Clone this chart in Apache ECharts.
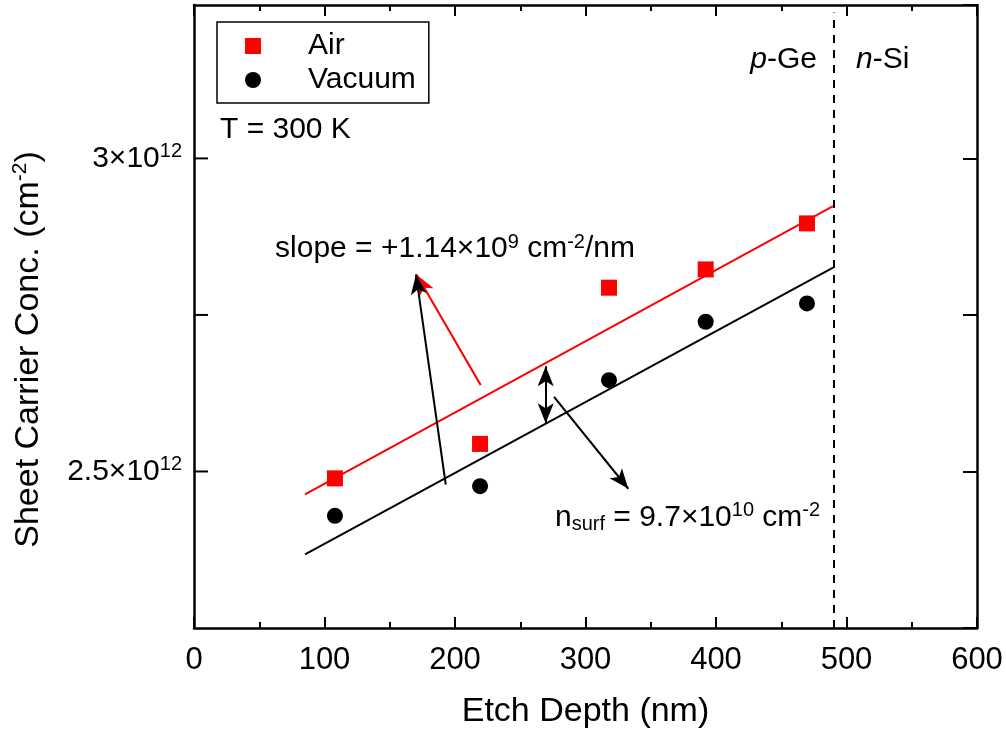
<!DOCTYPE html>
<html><head><meta charset="utf-8">
<script src="https://cdn.jsdelivr.net/npm/echarts@6/dist/echarts.min.js"></script>
<style>html,body{margin:0;padding:0;background:#fff}#c{width:1006px;height:735px}</style>
</head><body><div id="c"></div>
<script>
const FONT = '"Liberation Sans", Arial, sans-serif';

// ---- data ----
const etchDepth = [108.0, 219.2, 318.0, 392.1, 469.7];
const airConc = [2.489e12, 2.544e12, 2.7935e12, 2.8227e12, 2.8962e12];
const vacuumConc = [2.4292e12, 2.4765e12, 2.6458e12, 2.7391e12, 2.7684e12];
const fitX = [85.1, 489.7];
const airFitY = [2.4633e12, 2.9238e12];
const vacuumFitY = [2.3674e12, 2.8254e12];
const boundaryX = 490;
const boundaryY = [2.25e12, 3.233e12];
const yTickValues = [2.5e12, 3e12];
const yTickMantissa = ['2.5', '3'];
const yFrameTicks = [2.5e12, 2.75e12, 3e12];

// annotation arrows (data coords): [x1, y1, x2, y2]
const arrowSlopeBlack = [192.9, 2.4792e12, 170.1, 2.8147e12];
const arrowSlopeRed = [219.7, 2.6379e12, 170.6, 2.8140e12];
const arrowGap = [269.5, 2.577e12, 269.5, 2.668e12];
const arrowNsurf = [275.9, 2.6193e12, 332.8, 2.4724e12];

// annotation texts (data coords of anchor)
const textT = [19.9, 3.0463e12];
const textSlope = [62.1, 2.855e12];
const textNsurf = [276.6, 2.4265e12];
const textPGe = [477.4, 3.158e12];
const textNSi = [507.3, 3.158e12];

const rich = {
  n: {fontFamily: FONT, fontSize: 30, lineHeight: 34, color: '#000'},
  ni: {fontFamily: FONT, fontSize: 30, lineHeight: 34, color: '#000', fontStyle: 'italic'},
  s: {fontFamily: FONT, fontSize: 20, lineHeight: 20, color: '#000', verticalAlign: 'top'},
  b: {fontFamily: FONT, fontSize: 20, lineHeight: 20, color: '#000', verticalAlign: 'bottom'}
};

function arrowSeries(a, color, both) {
  return {
    type: 'line', data: [], silent: true,
    markLine: {
      silent: true, animation: false,
      symbol: [both ? 'arrow' : 'none', 'arrow'],
      symbolSize: [12, 20],
      label: {show: false},
      emphasis: {disabled: true},
      lineStyle: {color: color, width: 2, type: 'solid', opacity: 1},
      data: [[{coord: [a[0], a[1]]}, {coord: [a[2], a[3]]}]]
    }
  };
}

function textSeries(pos, txt, position) {
  return {
    type: 'scatter', data: [pos], symbolSize: 0, silent: true,
    itemStyle: {color: '#fff', opacity: 1},
    label: {show: true, position: position, distance: 0, color: '#000', textBorderWidth: 0,
      formatter: txt, rich: rich},
    z: 10
  };
}

const chart = echarts.init(document.getElementById('c'), null, {renderer: 'canvas'});

const X_MAX = 600;

const option = {
  animation: false,
  backgroundColor: '#fff',
  grid: {left: 194, right: 29, top: 5, bottom: 107},
  legend: {
    data: ['Air', 'Vacuum'],
    orient: 'vertical',
    left: 217, top: 22,
    padding: [9, 13, 8, 28],
    itemWidth: 16, itemHeight: 16, itemGap: 4,
    borderColor: '#000', borderWidth: 1.5,
    itemStyle: {opacity: 1},
    textStyle: {fontFamily: FONT, fontSize: 30, lineHeight: 30, color: '#000', padding: [0, 0, 0, 42]},
    selectedMode: false
  },
  xAxis: [{
    type: 'value', min: 0, max: X_MAX, interval: 100, position: 'bottom',
    name: 'Etch Depth (nm)', nameLocation: 'middle', nameGap: 67,
    nameTextStyle: {fontFamily: FONT, fontSize: 34, color: '#000'},
    axisLine: {show: true, onZero: false, lineStyle: {color: '#000', width: 2.5}},
    axisTick: {show: true, inside: true, length: 11, lineStyle: {color: '#000', width: 2}},
    minorTick: {show: true, splitNumber: 2, length: 6, lineStyle: {color: '#000', width: 2}},
    axisLabel: {fontFamily: FONT, fontSize: 31, color: '#000', margin: 17},
    splitLine: {show: false}
  }, {
    type: 'value', min: 0, max: X_MAX, interval: 100, position: 'top',
    axisLine: {show: true, onZero: false, lineStyle: {color: '#000', width: 2.5}},
    axisTick: {show: true, inside: true, length: 11, lineStyle: {color: '#000', width: 2}},
    minorTick: {show: true, splitNumber: 2, length: 6, lineStyle: {color: '#000', width: 2}},
    axisLabel: {show: false},
    splitLine: {show: false}
  }],
  yAxis: [{
    type: 'value', min: 2.25e12, max: 3.245e12, interval: 0.25e12, position: 'left',
    name: '{n|Sheet Carrier Conc. (cm}{s|-2}{n|)}', nameLocation: 'middle', nameGap: 146,
    nameTextStyle: {fontFamily: FONT, fontSize: 34, color: '#000', padding: [0, 66, 0, 0], rich: {
      n: {fontFamily: FONT, fontSize: 34, lineHeight: 38, color: '#000'},
      s: {fontFamily: FONT, fontSize: 21, lineHeight: 21, color: '#000', verticalAlign: 'top'}
    }},
    axisLine: {show: true, onZero: false, lineStyle: {color: '#000', width: 2.5}},
    axisTick: {show: false},
    axisLabel: {
      margin: 12, rich: rich,
      formatter: function (v) {
        for (let i = 0; i < yTickValues.length; i++) {
          if (Math.abs(v - yTickValues[i]) < 1e9) return '{n|' + yTickMantissa[i] + '×10}{s|12}';
        }
        return '';
      }
    },
    splitLine: {show: false}
  }, {
    type: 'value', min: 2.25e12, max: 3.245e12, interval: 0.25e12, position: 'right',
    axisLine: {show: true, onZero: false, lineStyle: {color: '#000', width: 2.5}},
    axisTick: {show: true, inside: true, length: 14, lineStyle: {color: '#000', width: 2}},
    axisLabel: {show: false},
    splitLine: {show: false}
  }],
  series: [
    {
      name: 'AirFit', type: 'line', showSymbol: false, silent: true,
      data: fitX.map((x, i) => [x, airFitY[i]]),
      lineStyle: {color: '#ff0000', width: 2}, z: 2
    },
    {
      name: 'VacuumFit', type: 'line', showSymbol: false, silent: true,
      data: fitX.map((x, i) => [x, vacuumFitY[i]]),
      lineStyle: {color: '#000', width: 2}, z: 2,
      markLine: {
        silent: true, animation: false, symbol: ['none', 'none'],
        label: {show: false},
        lineStyle: {color: '#000', width: 2, type: [8, 7], opacity: 1},
        data: [[{coord: [boundaryX, boundaryY[0]]}, {coord: [boundaryX, boundaryY[1]]}]]
      }
    },
    arrowSeries(arrowSlopeRed, '#ff0000', false),
    arrowSeries(arrowSlopeBlack, '#000', false),
    arrowSeries(arrowGap, '#000', true),
    arrowSeries(arrowNsurf, '#000', false),
    {
      name: 'Air', type: 'scatter', symbol: 'rect', symbolSize: 16,
      data: etchDepth.map((x, i) => [x, airConc[i]]),
      itemStyle: {color: '#ff0000', opacity: 1}, z: 5
    },
    {
      name: 'Vacuum', type: 'scatter', symbol: 'circle', symbolSize: 16,
      data: etchDepth.map((x, i) => [x, vacuumConc[i]]),
      itemStyle: {color: '#000', opacity: 1}, z: 5
    },
    textSeries(textT, '{n|T = 300 K}', 'right'),
    textSeries(textSlope, '{n|slope = +1.14×10}{s|9}{n| cm}{s|-2}{n|/nm}', 'right'),
    textSeries(textNsurf, '{n|n}{b|surf}{n| = 9.7×10}{s|10}{n| cm}{s|-2}', 'right'),
    textSeries(textPGe, '{ni|p}{n|-Ge}', 'left'),
    textSeries(textNSi, '{ni|n}{n|-Si}', 'right')
  ]
};
chart.setOption(option);

// inward ticks on the left frame, positioned through the chart's own scales,
// drawn on a separate top layer
const yAx = chart.getModel().getComponent('yAxis', 0).axis;
const xAx = chart.getModel().getComponent('xAxis', 0).axis;
const x0 = xAx.toGlobalCoord(xAx.dataToCoord(0));
const leftTicks = yFrameTicks.map(function (v) {
  const py = yAx.toGlobalCoord(yAx.dataToCoord(v));
  return {
    type: 'line', silent: true, zlevel: 5, z: 100,
    shape: {x1: x0, y1: py, x2: x0 + 14, y2: py},
    style: {stroke: '#000', lineWidth: 2}
  };
});
chart.setOption({graphic: {elements: leftTicks}});
</script>
</body></html>
